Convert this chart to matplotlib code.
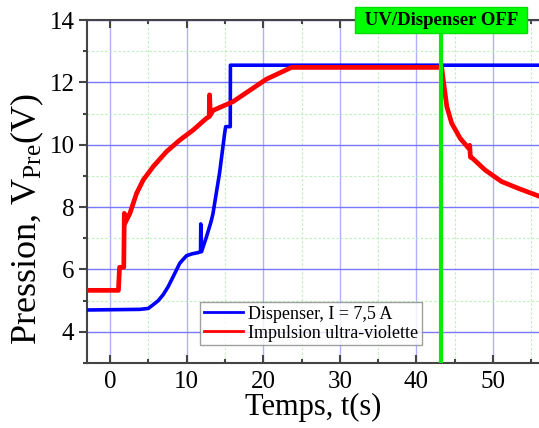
import matplotlib
matplotlib.use("Agg")
import matplotlib.pyplot as plt
from matplotlib.ticker import MultipleLocator

plt.rcParams['font.family'] = ['Liberation Serif', 'DejaVu Serif']
plt.rcParams['mathtext.fontset'] = 'custom'
plt.rcParams['mathtext.rm'] = 'Liberation Serif'
plt.rcParams['mathtext.it'] = 'Liberation Serif:italic'

# Data
t_disp = [-3.0, 3.9, 5.0, 5.64, 6.3, 6.94, 7.6, 8.25, 9.11, 9.98, 10.7, 11.5, 11.82, 11.85, 11.95,
          12.6, 13.2, 13.45, 14.3, 14.97, 15.1, 15.7, 15.72, 56.0]
v_disp = [4.70, 4.72, 4.75, 4.87, 5.00, 5.19, 5.45, 5.77, 6.20, 6.44, 6.50, 6.54, 6.57, 7.46, 6.57,
          7.05, 7.54, 7.80, 9.09, 10.37, 10.58, 10.58, 12.55, 12.55]

t_uv = [-3.0, 1.1, 1.25, 1.8, 1.87, 1.95, 2.6, 3.47, 4.34, 5.64, 7.38, 9.11, 10.85, 12.6, 12.95,
        13.0, 13.1, 13.45, 16.05, 20.4, 23.7, 43.3, 43.5, 43.97, 44.6, 45.7, 46.8, 46.95, 47.05,
        47.3, 48.96, 51.1, 53.3, 56.0]
v_uv = [5.33, 5.33, 6.07, 6.07, 7.80, 7.48, 7.80, 8.44, 8.87, 9.30, 9.78, 10.15, 10.47, 10.85, 10.90,
        11.60, 10.95, 11.10, 11.38, 12.10, 12.48, 12.48, 12.08, 11.22, 10.69, 10.21, 9.89, 9.98, 9.60,
        9.57, 9.19, 8.82, 8.60, 8.35]

off_time = 43.2
label_disp = "Dispenser, I = 7,5 A"
label_uv = "Impulsion ultra-violette"
annot = " UV/Dispenser OFF "

fig = plt.figure(figsize=(5.39, 4.28), dpi=100)
ax = fig.add_axes([87/539, 65/428, 1 - 87/539, (363-20)/428])

ax.plot(t_disp, v_disp, color='#0000ff', lw=2.6, label=label_disp, zorder=3)
ax.plot(t_uv, v_uv, color='#ff0000', lw=3.4, label=label_uv, zorder=4)

ax.axvline(off_time, color='#00ee00', lw=3, zorder=5)
ax.text(off_time, 14.0, annot, ha='center', va='center', fontsize=13.5, fontweight='bold',
        color='black', zorder=6, clip_on=False,
        bbox=dict(boxstyle='square,pad=0.25', fc='#00ff00', ec='#00dd00', lw=1))

ax.set_xlim(-3, 56)
ax.set_ylim(3, 14)
ax.xaxis.set_major_locator(MultipleLocator(10))
ax.xaxis.set_minor_locator(MultipleLocator(5))
ax.yaxis.set_major_locator(MultipleLocator(2))
ax.yaxis.set_minor_locator(MultipleLocator(1))
ax.set_yticks([4, 6, 8, 10, 12, 14])

ax.grid(which='major', axis='x', color='#b0b0ff', lw=1.0, zorder=0)
ax.grid(which='major', axis='y', color='#7878ff', lw=1.0, zorder=0)
ax.grid(which='minor', color='#b8f0b8', lw=0.8, ls=(0, (2, 2)), zorder=0)
ax.set_axisbelow(True)

for s in ['left', 'bottom', 'top', 'right']:
    ax.spines[s].set_color('#444444')
    ax.spines[s].set_linewidth(1.5)
ax.spines['right'].set_visible(False)

ax.tick_params(axis='x', which='both', direction='in', top=True, bottom=True,
               labelsize=18, colors='#444444', labelcolor='black', pad=6)
ax.tick_params(axis='x', which='major', length=6, width=1.5)
ax.tick_params(axis='x', which='minor', length=3, width=1.5)
ax.tick_params(axis='y', which='both', direction='out', right=False,
               labelsize=18, colors='#444444', labelcolor='black', pad=3)
ax.tick_params(axis='y', which='major', length=6, width=1.5)
ax.tick_params(axis='y', which='minor', length=3, width=1.5)

ax.set_xlabel('Temps, t(s)', fontsize=22, labelpad=0)
ax.set_ylabel(r'Pression, V$_{\mathrm{Pre}}$(V)', fontsize=26)
ax.yaxis.set_label_coords(-0.09, 0.42)

leg = ax.legend(loc='lower left', bbox_to_anchor=(0.25, 0.052), borderaxespad=0,
                fontsize=13, frameon=True, fancybox=False, edgecolor='#888888',
                handlelength=2.2, handletextpad=0.25, labelspacing=0.1, borderpad=0.2)
leg.get_frame().set_linewidth(1.0)
for ln in leg.get_lines():
    ln.set_linewidth(2.0)

fig.savefig('out.png', dpi=100)
